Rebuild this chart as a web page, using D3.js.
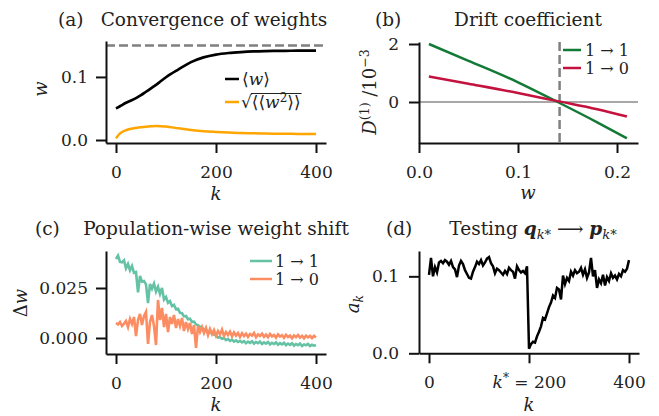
<!DOCTYPE html>
<html>
<head>
<meta charset="utf-8">
<script src="https://cdn.jsdelivr.net/npm/d3@7"></script>
<style>
  body { margin: 0; background: #fff; }
  text { font-family: "DejaVu Serif", serif; fill: #222; }
</style>
</head>
<body>
<svg id="fig" width="659" height="416"></svg>
<script>
// (a) convergence of weights
const kA = [0, 5, 10, 20, 30, 40, 50, 60, 70, 80, 90, 100, 125, 150, 175, 200, 225, 250, 275, 300, 325, 350, 375, 400]
const meanW = [0.050, 0.0522, 0.0545, 0.059, 0.0625, 0.0665, 0.071, 0.0765, 0.082, 0.0875, 0.0935, 0.0995,
  0.112, 0.1235, 0.131, 0.1355, 0.138, 0.1395, 0.1405, 0.141, 0.1413, 0.1415, 0.1417, 0.1418]
const stdW = [0.0025, 0.008, 0.0115, 0.0155, 0.0178, 0.0192, 0.0203, 0.0212, 0.0218, 0.0222, 0.0219, 0.0213,
  0.0185, 0.0160, 0.0140, 0.0128, 0.0118, 0.0111, 0.0106, 0.0102, 0.0100, 0.0098, 0.0096, 0.0095]
const wTarget = 0.15

// (b) drift coefficient, units of 1e-3
const wB = [0.01, 0.05, 0.1, 0.14, 0.18, 0.21]
const drift11 = [2.0, 1.42, 0.68, 0.0, -0.70, -1.25]
const drift10 = [0.88, 0.63, 0.31, 0.03, -0.25, -0.50]
const wFixed = 0.142

// (c) population-wise weight shift, k = 0, 4, ..., 400
const kC = d3.range(0, 401, 4)
const shift11 = [
  0.0395, 0.0412, 0.0380, 0.0378, 0.0388, 0.0348, 0.0370, 0.0338, 0.0360, 0.0326,
  0.0330, 0.0228, 0.0310, 0.0282, 0.0285, 0.0268, 0.0175, 0.0270, 0.0246, 0.0272,
  0.0232, 0.0256, 0.0220, 0.0250, 0.0192, 0.0205, 0.0176, 0.0184, 0.0160, 0.0166,
  0.0144, 0.0146, 0.0126, 0.0124, 0.0108, 0.0110, 0.0094, 0.0096, 0.0080, 0.0082,
  0.0068, 0.0064, 0.0056, 0.0050, 0.0044, 0.0040, 0.0032, 0.0029, 0.0022, 0.0017,
  0.0012, 0.0002, 0.0004, -0.0004, 0.0000, -0.0010, -0.0004, -0.0014, -0.0008, -0.0018,
  -0.0012, -0.0020, -0.0014, -0.0022, -0.0016, -0.0026, -0.0018, -0.0024, -0.0016, -0.0028,
  -0.0020, -0.0026, -0.0018, -0.0030, -0.0022, -0.0028, -0.0020, -0.0032, -0.0024, -0.0030,
  -0.0022, -0.0034, -0.0026, -0.0032, -0.0024, -0.0036, -0.0028, -0.0034, -0.0026, -0.0038,
  -0.0030, -0.0036, -0.0028, -0.0040, -0.0032, -0.0036, -0.0030, -0.0040, -0.0034, -0.0038,
  -0.0036]
const shift10 = [
  0.0075, 0.0068, 0.0080, 0.0060, 0.0072, 0.0085, 0.0055, 0.0095, 0.0070, 0.0105,
  0.0010, 0.0090, 0.0120, 0.0065, 0.0110, 0.0130, -0.0030, 0.0080, 0.0115, 0.0060,
  -0.0035, 0.0190, 0.0090, 0.0150, 0.0055, 0.0120, 0.0030, 0.0105, 0.0070, 0.0115,
  0.0050, 0.0095, 0.0060, 0.0100, 0.0035, 0.0080, 0.0045, 0.0075, 0.0020, 0.0065,
  -0.0050, 0.0060, 0.0030, 0.0055, 0.0025, 0.0050, 0.0015, 0.0045, 0.0020, 0.0040,
  0.0012, 0.0035, 0.0018, 0.0042, 0.0010, 0.0030, 0.0015, 0.0032, 0.0008, 0.0028,
  0.0012, 0.0025, 0.0005, 0.0024, 0.0010, 0.0022, 0.0006, 0.0020, 0.0012, 0.0025,
  0.0004, 0.0018, 0.0010, 0.0022, 0.0006, 0.0017, 0.0004, 0.0020, 0.0008, 0.0015,
  0.0002, 0.0018, 0.0007, 0.0014, 0.0001, 0.0016, 0.0005, 0.0012, -0.0001, 0.0013,
  0.0004, 0.0015, 0.0002, 0.0011, -0.0002, 0.0012, 0.0003, 0.0010, 0.0000, 0.0011,
  0.0003]

// (d) testing q_k* -> p_k*, k = 0, 4, ..., 400
const kD = d3.range(0, 401, 4)
const aK = [
  0.102, 0.124, 0.100, 0.112, 0.105, 0.118, 0.120, 0.117, 0.121, 0.119,
  0.115, 0.120, 0.112, 0.109, 0.099, 0.114, 0.120, 0.116, 0.108, 0.103,
  0.098, 0.097, 0.106, 0.112, 0.119, 0.116, 0.121, 0.114, 0.118, 0.123,
  0.125, 0.117, 0.113, 0.104, 0.110, 0.108, 0.105, 0.102, 0.107, 0.103,
  0.111, 0.108, 0.106, 0.097, 0.113, 0.108, 0.105, 0.107, 0.104, 0.113,
  0.006, 0.012, 0.015, 0.014, 0.022, 0.028, 0.035, 0.046, 0.044, 0.052,
  0.060, 0.066, 0.075, 0.072, 0.085, 0.083, 0.070, 0.101, 0.090, 0.098,
  0.094, 0.106, 0.101, 0.108, 0.104, 0.106, 0.111, 0.102, 0.109, 0.098,
  0.105, 0.124, 0.100, 0.108, 0.085, 0.096, 0.091, 0.102, 0.088, 0.099,
  0.094, 0.104, 0.098, 0.101, 0.096, 0.103, 0.100, 0.108, 0.106, 0.110,
  0.121]
const kStar = 200

const svg = d3.select('#fig')
const FS = 17     // tick labels
const TS = 18.5   // titles
const LS = 18     // axis labels

// draw the two spines + ticks for a panel
function drawAxes(x, y, xTicks, yTicks, xFmt, yFmt, yPad) {
  const gx = svg.append('g')
    .attr('transform', `translate(0,${y.range()[0]})`)
    .call(d3.axisBottom(x).tickValues(xTicks).tickFormat(xFmt)
      .tickSize(10).tickSizeOuter(0).tickPadding(13))
  const gy = svg.append('g')
    .attr('transform', `translate(${x.range()[0]},0)`)
    .call(d3.axisLeft(y).tickValues(yTicks).tickFormat(yFmt)
      .tickSize(10).tickSizeOuter(0).tickPadding(yPad || 8))
  for (const g of [gx, gy]) {
    g.attr('font-size', FS).attr('font-family', '"DejaVu Serif", serif')
    g.select('.domain').attr('stroke', '#111').attr('stroke-width', 2)
    g.selectAll('.tick line').attr('stroke', '#111').attr('stroke-width', 2)
    g.selectAll('.tick text').attr('fill', '#222')
  }
  return gx
}

function title(label, lx, txt, cx, y) {
  svg.append('text').attr('x', lx).attr('y', y).attr('font-size', TS).text(label)
  return svg.append('text').attr('x', cx).attr('y', y).attr('font-size', TS)
    .attr('text-anchor', 'middle').text(txt)
}

function xlabel(x, y, txt) {
  return svg.append('text').attr('x', x).attr('y', y).attr('text-anchor', 'middle')
    .attr('font-size', LS).style('font-style', 'italic').text(txt)
}

function ylabel(x, y) {
  return svg.append('text').attr('transform', `translate(${x},${y}) rotate(-90)`)
    .attr('text-anchor', 'middle').attr('font-size', LS)
}

function legend(items, x0, x1, ys, tx) {
  items.forEach((it, i) => {
    svg.append('line').attr('x1', x0).attr('x2', x1).attr('y1', ys[i]).attr('y2', ys[i])
      .attr('stroke', it.color).attr('stroke-width', 2.5)
    if (it.label) {
      svg.append('text').attr('x', tx).attr('y', ys[i] + 5.5).attr('font-size', 16).text(it.label)
    }
  })
}

// ---------- (a) ----------
{
  const x = d3.scaleLinear().domain([-20, 420]).range([106, 326])
  const y = d3.scaleLinear().domain([-0.00476, 0.157]).range([143, 41])
  svg.append('line').attr('x1', 106).attr('x2', 326).attr('y1', y(wTarget)).attr('y2', y(wTarget))
    .attr('stroke', '#808080').attr('stroke-width', 2.5).attr('stroke-dasharray', '9,4')
  const line = d3.line().x((d, i) => x(kA[i])).y(d => y(d)).curve(d3.curveMonotoneX)
  svg.append('path').attr('d', line(meanW)).attr('fill', 'none').attr('stroke', '#000').attr('stroke-width', 2.7)
  svg.append('path').attr('d', line(stdW)).attr('fill', 'none').attr('stroke', '#ffa500').attr('stroke-width', 2.5)
  drawAxes(x, y, [0, 200, 400], [0, 0.1], d3.format('d'), d3.format('.1f'), 8)
  title('(a)', 58, 'Convergence of weights', 214, 26)
  xlabel(216, 200, 'k')
  ylabel(47, 89).style('font-style', 'italic').text('w')

  legend([{ color: '#000' }, { color: '#ffa500' }], 225, 239, [79, 102], 242)
  const t1 = svg.append('text').attr('x', 242).attr('y', 85).attr('font-size', FS)
  t1.append('tspan').text('⟨')
  t1.append('tspan').style('font-style', 'italic').text('w')
  t1.append('tspan').text('⟩')
  const sq = svg.append('text').attr('x', 241).attr('y', 108).attr('font-size', FS).text('√')
  const sw = sq.node().getComputedTextLength()
  const t2 = svg.append('text').attr('x', 241 + sw).attr('y', 108).attr('font-size', FS)
  t2.append('tspan').text('⟨⟨')
  t2.append('tspan').style('font-style', 'italic').text('w')
  t2.append('tspan').attr('dy', -6).attr('font-size', 12).text('2')
  t2.append('tspan').attr('dy', 6).text('⟩⟩')
  const iw = t2.node().getComputedTextLength()
  svg.append('line').attr('x1', 241 + sw - 1).attr('x2', 241 + sw + iw + 1)
    .attr('y1', 93.5).attr('y2', 93.5).attr('stroke', '#222').attr('stroke-width', 1)
}

// ---------- (b) ----------
{
  const x = d3.scaleLinear().domain([0, 0.2212]).range([419, 638])
  const y = d3.scaleLinear().domain([-1.414, 2.069]).range([143, 42])
  svg.append('line').attr('x1', 419).attr('x2', 638).attr('y1', y(0)).attr('y2', y(0))
    .attr('stroke', '#8a8a8a').attr('stroke-width', 1.3)
  svg.append('line').attr('x1', x(wFixed)).attr('x2', x(wFixed)).attr('y1', 42).attr('y2', 143)
    .attr('stroke', '#808080').attr('stroke-width', 2.5).attr('stroke-dasharray', '9,4')
  const line = d3.line().x((d, i) => x(wB[i])).y(d => y(d)).curve(d3.curveMonotoneX)
  svg.append('path').attr('d', line(drift11)).attr('fill', 'none').attr('stroke', '#137a36').attr('stroke-width', 2.5)
  svg.append('path').attr('d', line(drift10)).attr('fill', 'none').attr('stroke', '#c4123f').attr('stroke-width', 2.5)
  drawAxes(x, y, [0, 0.1, 0.2], [0, 2], d3.format('.1f'), d3.format('d'), 10)
  title('(b)', 375, 'Drift coefficient', 528, 26)
  xlabel(528, 199, 'w')
  const yl = ylabel(376, 92)
  yl.append('tspan').style('font-style', 'italic').text('D')
  yl.append('tspan').attr('dy', -7).attr('font-size', 12.5).text('(1)')
  yl.append('tspan').attr('dy', 7).text(' /10')
  yl.append('tspan').attr('dy', -7).attr('font-size', 12.5).text('−3')
  legend([{ color: '#137a36', label: '1 → 1' }, { color: '#c4123f', label: '1 → 0' }], 563, 581, [50, 68], 585)
}

// ---------- (c) ----------
{
  const x = d3.scaleLinear().domain([-20, 420]).range([106, 326])
  const y = d3.scaleLinear().domain([-0.008, 0.0435]).range([354, 251])
  const line = d3.line().x((d, i) => x(kC[i])).y(d => y(d))
  svg.append('path').attr('d', line(shift11)).attr('fill', 'none').attr('stroke', '#66c2a5').attr('stroke-width', 2.6)
  svg.append('path').attr('d', line(shift10)).attr('fill', 'none').attr('stroke', '#fc8d62').attr('stroke-width', 2.6)
  drawAxes(x, y, [0, 200, 400], [0, 0.025], d3.format('d'), d3.format('.3f'), 8)
  title('(c)', 35, 'Population-wise weight shift', 216, 235)
  xlabel(216, 411, 'k')
  const yl = ylabel(27, 303)
  yl.append('tspan').text('Δ')
  yl.append('tspan').style('font-style', 'italic').text('w')
  legend([{ color: '#66c2a5', label: '1 → 1' }, { color: '#fc8d62', label: '1 → 0' }], 250, 272, [261, 279], 275)
}

// ---------- (d) ----------
{
  const x = d3.scaleLinear().domain([-20, 420]).range([419, 639])
  const y = d3.scaleLinear().domain([0, 0.1329]).range([353.3, 251])
  const line = d3.line().x((d, i) => x(kD[i])).y(d => y(d))
  svg.append('path').attr('d', line(aK)).attr('fill', 'none').attr('stroke', '#000').attr('stroke-width', 2.5)
  const gx = drawAxes(x, y, [0, kStar, 400], [0, 0.1], d3.format('d'), d3.format('.1f'), 10)
  gx.selectAll('.tick text').each(function (d) {
    if (d !== kStar) return
    const t = d3.select(this).text('')
    t.append('tspan').style('font-style', 'italic').text('k')
    t.append('tspan').attr('dy', -6).attr('font-size', 12).text('*')
    t.append('tspan').attr('dy', 6).text(' = 200')
  })
  const tt = title('(d)', 386, '', 533, 235)
  tt.append('tspan').text('Testing ')
  tt.append('tspan').style('font-style', 'italic').style('font-weight', 'bold').text('q')
  tt.append('tspan').attr('dy', 4).attr('font-size', 13).style('font-style', 'italic').text('k*')
  tt.append('tspan').attr('dy', -4).text(' ⟶ ')
  tt.append('tspan').style('font-style', 'italic').style('font-weight', 'bold').text('p')
  tt.append('tspan').attr('dy', 4).attr('font-size', 13).style('font-style', 'italic').text('k*')
  xlabel(529, 411, 'k')
  const yl = ylabel(359, 304)
  yl.append('tspan').style('font-style', 'italic').text('a')
  yl.append('tspan').attr('dy', 4).attr('font-size', 12.5).style('font-style', 'italic').text('k')
}
</script>
</body>
</html>
